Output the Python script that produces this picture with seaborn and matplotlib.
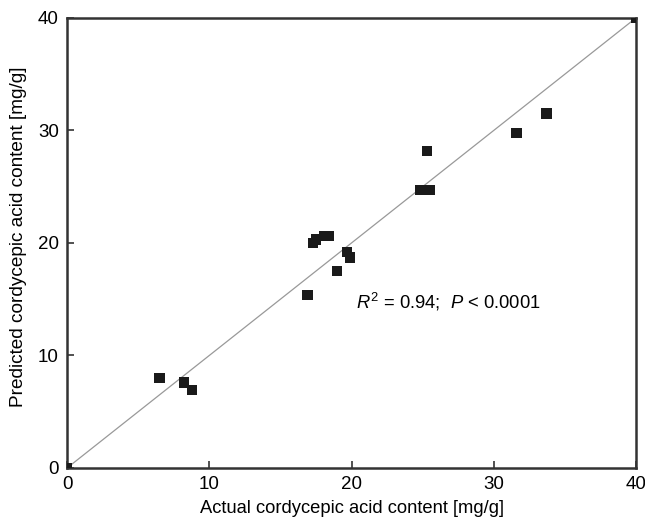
import matplotlib
matplotlib.use("Agg")
import matplotlib.pyplot as plt
import seaborn as sns
import numpy as np
import pandas as pd

actual = [0.0, 6.5, 8.2, 8.8, 16.9, 17.3, 17.5, 18.1, 18.4, 19.0, 19.7, 19.9,
          24.8, 25.2, 25.5, 25.3, 31.6, 33.7, 40.0]
predicted = [0.0, 8.0, 7.6, 6.9, 15.4, 20.0, 20.3, 20.6, 20.6, 17.5, 19.2, 18.7,
             24.7, 24.7, 24.7, 28.2, 29.8, 31.5, 40.0]
ticks = [0, 10, 20, 30, 40]

df = pd.DataFrame({"actual": actual, "predicted": predicted})

sns.set_style("white")
plt.rcParams['font.family'] = ['Liberation Sans', 'DejaVu Sans']
plt.rcParams['text.color'] = 'black'
plt.rcParams['axes.labelcolor'] = 'black'
plt.rcParams['xtick.color'] = 'black'
plt.rcParams['ytick.color'] = 'black'
plt.rcParams['mathtext.fontset'] = 'custom'
plt.rcParams['mathtext.rm'] = 'Liberation Sans'
plt.rcParams['mathtext.it'] = 'Liberation Sans:italic'

fig = plt.figure(figsize=(6.45, 5.27), dpi=100)
ax = fig.add_axes([0.104, 0.112, 0.882, 0.854])

ax.plot([0, 40], [0, 40], color="#999999", lw=0.9, zorder=1)
sns.scatterplot(data=df, x="actual", y="predicted", marker="s", s=55,
                color="#1a1a1a", edgecolor="none", ax=ax, zorder=3)

ax.set_xlim(0, 40)
ax.set_ylim(0, 40)
ax.set_xticks(ticks)
ax.set_yticks(ticks)
ax.set_xticklabels([str(t) for t in ticks])
ax.set_yticklabels([str(t) for t in ticks])
ax.tick_params(direction="in", length=5, width=1.2, color="#333333",
               labelsize=13.5, pad=6, bottom=True, left=True)
for s in ax.spines.values():
    s.set_color("#333333")
    s.set_linewidth(1.8)

ax.set_xlabel("Actual cordycepic acid content [mg/g]", fontsize=13.2, labelpad=5)
ax.set_ylabel("Predicted cordycepic acid content [mg/g]", fontsize=13.7)
ax.yaxis.set_label_coords(-0.071, 0.513)

ax.text(20.3, 14.8, r"$\it{R}^{2}$ = 0.94;  $\it{P}$ < 0.0001", fontsize=13.2,
        ha="left", va="center")

fig.savefig("out.png", dpi=100)
